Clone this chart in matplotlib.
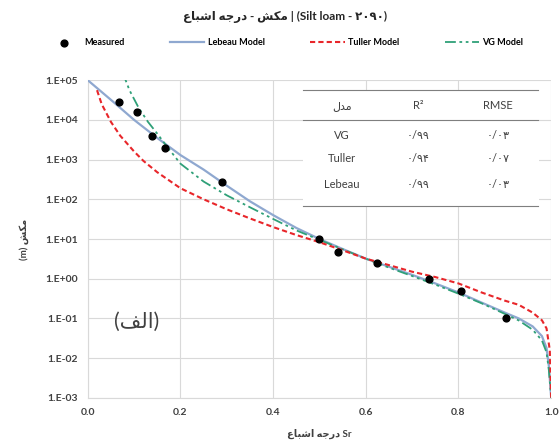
"""
Suction vs degree of saturation, Silt loam - fitted models
"""
import math
import matplotlib as mpl
mpl.use('Agg')
import matplotlib.pyplot as plt
from matplotlib.patches import Rectangle
from matplotlib.ticker import FixedLocator, FuncFormatter

mpl.rcParams['font.family'] = ['Lato', 'DejaVu Sans']
mpl.rcParams['axes.unicode_minus'] = False

# Persian strings written in shaped presentation forms, visual order
W_MAKESH = '\uFEB6\uFB91\uFEE3'                  # مکش
W_DARAJE = '\uFEEA\uFE9F\uFEAD\uFEA9'            # درجه
W_ESHBA = '\uFEC9\uFE8E\uFE92\uFEB7\uFE8D'       # اشباع
W_MODEL = '\uFEDD\uFEAA\uFEE3'                   # مدل
W_ALEF = '\uFED2\uFEDF\uFE8D'                    # الف

title_txt = W_ESHBA + ' ' + W_DARAJE + ' - ' + W_MAKESH + ' | (Silt loam - \u06F2\u06F0\u06F9\u06F0)'
xlabel_txt = W_ESHBA + ' ' + W_DARAJE + ' Sr'
ylabel_txt = '(m) ' + W_MAKESH

# measured data (Sr, suction m)
meas_sr = [0.067, 0.106, 0.138, 0.166, 0.29, 0.499, 0.54, 0.624, 0.737, 0.805, 0.903]
meas_h = [2.8e4, 1.6e4, 3.9e3, 2.0e3, 2.7e2, 10.0, 4.7, 2.5, 1.0, 0.5, 0.1]

# model curves
leb_sr = [0.0, 0.05, 0.10, 0.15, 0.20, 0.25, 0.30, 0.35, 0.40, 0.45, 0.50, 0.55, 0.60,
          0.65, 0.70, 0.75, 0.80, 0.85, 0.90, 0.93, 0.96, 0.98, 0.99, 0.995, 1.0]
leb_h = [1.0e5, 3.2e4, 1.0e4, 3.5e3, 1.3e3, 5.6e2, 2.2e2, 8.9e1, 4.0e1, 1.9e1, 10.0, 5.6, 3.2,
         2.0, 1.25, 0.76, 0.45, 0.25, 0.14, 0.10, 0.063, 0.036, 0.018, 6.3e-3, 1.0e-3]

vg_sr = [0.075, 0.09, 0.11, 0.13, 0.15, 0.17, 0.20, 0.25, 0.30, 0.35, 0.40, 0.45, 0.50,
         0.55, 0.60, 0.65, 0.70, 0.75, 0.80, 0.85, 0.90, 0.93, 0.96, 0.98, 0.99, 0.995, 1.0]
vg_h = [1.6e5, 5.6e4, 2.0e4, 8.9e3, 4.5e3, 2.2e3, 7.9e2, 2.8e2, 1.26e2, 6.3e1, 3.2e1, 1.65e1, 9.5,
        5.5, 3.2, 1.9, 1.17, 0.71, 0.42, 0.24, 0.13, 0.089, 0.052, 0.028, 0.014, 5.0e-3, 1.0e-3]

tul_sr = [0.02, 0.03, 0.05, 0.07, 0.10, 0.12, 0.15, 0.20, 0.25, 0.30, 0.35, 0.40, 0.45,
          0.50, 0.55, 0.60, 0.65, 0.70, 0.75, 0.80, 0.85, 0.90, 0.93, 0.96, 0.98, 0.99,
          0.997, 1.0]
tul_h = [5.6e4, 2.5e4, 8.9e3, 4.0e3, 1.6e3, 9.3e2, 4.8e2, 1.9e2, 1.0e2, 5.6e1, 3.3e1, 2.0e1, 1.26e1,
         8.3, 5.2, 3.2, 2.2, 1.5, 1.1, 0.76, 0.45, 0.28, 0.22, 0.14, 0.09, 0.056,
         0.016, 1.0e-3]

# fit table
tab_header = [W_MODEL, 'R\u00B2', 'RMSE']
tab_models = ['VG', 'Tuller', 'Lebeau']
tab_r2 = ['\u06F0/\u06F9\u06F9', '\u06F0/\u06F9\u06F4', '\u06F0/\u06F9\u06F9']
tab_rmse = ['\u06F0/\u06F0\u06F3', '\u06F0/\u06F0\u06F7', '\u06F0/\u06F0\u06F3']

y_ticks = [1e-3, 1e-2, 1e-1, 1e0, 1e1, 1e2, 1e3, 1e4, 1e5]
x_ticks = [0.0, 0.2, 0.4, 0.6, 0.8, 1.0]

fig = plt.figure(figsize=(5.59, 4.48), dpi=100)
ax = fig.add_axes([0.157, 0.112, 0.829, 0.709])

txt_col = '#404040'
ax.plot(leb_sr, leb_h, color='#8FA8D0', lw=1.6, label='Lebeau Model', zorder=3)
ax.plot(tul_sr, tul_h, color='#E8262A', lw=1.5, ls=(0, (2.5, 1.5)), label='Tuller Model', zorder=4)
ax.plot(vg_sr, vg_h, color='#2FA078', lw=1.3, ls=(0, (6, 2, 1.5, 2, 1.5, 2)), label='VG Model', zorder=3)
ax.scatter(meas_sr, meas_h, s=24, color='black', zorder=5, label='Measured')

ax.set_yscale('log')
ax.set_xlim(0, 1)
ax.set_ylim(1e-3, 1e5)
ax.yaxis.set_major_locator(FixedLocator(y_ticks))
ax.yaxis.set_minor_locator(FixedLocator([]))
ax.yaxis.set_major_formatter(FuncFormatter(lambda v, p: '1.E%+03d' % round(math.log10(v))))
ax.set_xticks(x_ticks)
ax.xaxis.set_major_formatter(FuncFormatter(lambda v, p: '%.1f' % v))
ax.grid(True, color='#D9D9D9', lw=0.8)
ax.set_axisbelow(True)
ax.tick_params(length=0, labelsize=7.5, colors=txt_col, pad=7)
for t in ax.get_xticklabels() + ax.get_yticklabels():
    t.set_fontweight('bold')
for s in ['top', 'right']:
    ax.spines[s].set_visible(False)
for s in ['left', 'bottom']:
    ax.spines[s].set_color('#D9D9D9')

ax.set_xlabel(xlabel_txt, fontsize=7, fontweight='bold', color=txt_col, labelpad=9)
ax.set_ylabel(ylabel_txt, fontsize=7, fontweight='bold', color=txt_col, labelpad=12)
fig.text(0.51, 0.962, title_txt, ha='center', va='center', fontsize=8.5, fontweight='bold', color='#262626')

handles, labels = ax.get_legend_handles_labels()
order = [3, 0, 1, 2]
fig.legend([handles[i] for i in order], [labels[i] for i in order], loc='center',
           bbox_to_anchor=(0.51, 0.905), ncol=4, frameon=False,
           prop={'weight': 'bold', 'size': 6.5}, handlelength=3.8, columnspacing=5.0,
           handletextpad=0.4)

# table box
ax.add_patch(Rectangle((0.464, 0.604), 0.51, 0.366, transform=ax.transAxes,
                       facecolor='white', edgecolor='none', zorder=6))
for yy in [0.969, 0.874, 0.604]:
    ax.plot([0.464, 0.972], [yy, yy], transform=ax.transAxes, color='#7F7F7F', lw=0.8, zorder=7)
col_x = [0.549, 0.713, 0.886]
for cx, h in zip(col_x, tab_header):
    ax.text(cx, 0.921, h, transform=ax.transAxes, ha='center', va='center', fontsize=8,
            color=txt_col, zorder=8)
row_y = [0.827, 0.752, 0.673]
for ry, m, r2, rm in zip(row_y, tab_models, tab_r2, tab_rmse):
    ax.text(col_x[0], ry, m, transform=ax.transAxes, ha='center', va='center', fontsize=8,
            color=txt_col, zorder=8)
    ax.text(col_x[1], ry, r2, transform=ax.transAxes, ha='center', va='center', fontsize=8,
            color=txt_col, zorder=8)
    ax.text(col_x[2], ry, rm, transform=ax.transAxes, ha='center', va='center', fontsize=8,
            color=txt_col, zorder=8)

ax.text(0.106, 0.24, '(' + W_ALEF + ')', transform=ax.transAxes, ha='center', va='center',
        fontsize=15, color='#404040')

fig.savefig('out.png', dpi=100)
